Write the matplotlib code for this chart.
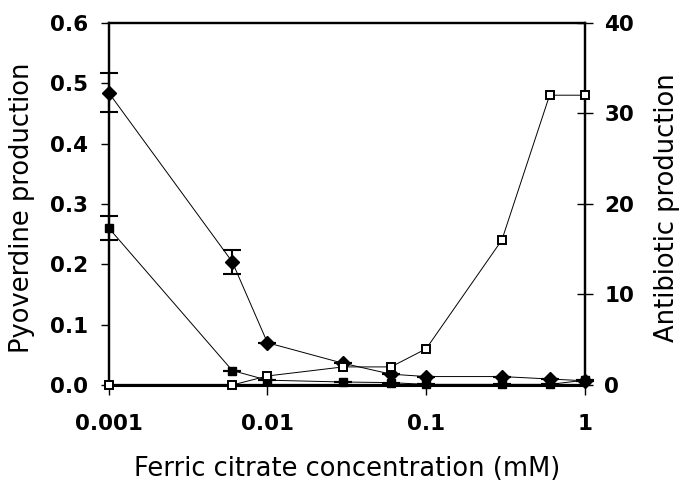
import matplotlib
matplotlib.use("Agg")
import matplotlib.pyplot as plt
from matplotlib.ticker import FixedLocator, FixedFormatter, NullLocator

# ferric citrate concentrations (mM)
conc = [0.001, 0.006, 0.01, 0.03, 0.06, 0.1, 0.3, 0.6, 1]
# pyoverdine production, two strains (left axis)
pyov_diamond = [0.484, 0.204, 0.070, 0.036, 0.018, 0.014, 0.014, 0.010, 0.007]
pyov_diamond_err = [0.032, 0.020, 0, 0, 0, 0, 0, 0, 0]
pyov_square = [0.260, 0.024, 0.008, 0.005, 0.004, 0.001, 0.001, 0.001, 0.008]
pyov_square_err = [0.020, 0, 0, 0, 0, 0, 0, 0, 0]
# antibiotic production (right axis)
antibiotic = [0, 0, 1, 2, 2, 4, 16, 32, 32]

xticks = [0.001, 0.01, 0.1, 1]
xticklabels = ["0.001", "0.01", "0.1", "1"]
lticks = [0.0, 0.1, 0.2, 0.3, 0.4, 0.5, 0.6]
rticks = [0, 10, 20, 30, 40]

TICKFONT = dict(family="DejaVu Sans", weight="bold", size=15.5)
LABELFONT = dict(family="DejaVu Sans", size=18.5)

fig = plt.figure(figsize=(6.8, 4.84), dpi=100)
ax = fig.add_axes([0.160, 0.2045, 0.700, 0.7485])
ax2 = ax.twinx()

err_kw = dict(color="black", lw=0.7, mfc="black", mec="black", capsize=6.4,
              capthick=1.5, elinewidth=1.5, clip_on=False, zorder=3)
ax.errorbar(conc, pyov_diamond, yerr=pyov_diamond_err, marker="D", ms=7.3, **err_kw)
ax.errorbar(conc, pyov_square, yerr=pyov_square_err, marker="s", ms=6.3, **err_kw)
ax2.plot(conc, antibiotic, color="black", lw=0.7, marker="s", ms=5.8,
         mfc="white", mec="black", mew=1.4, clip_on=False, zorder=4)

ax.set_xscale("log")
ax.set_xlim(0.001, 1)
ax.set_ylim(0, 0.6)
ax2.set_ylim(0, 40)

ax.xaxis.set_major_locator(FixedLocator(xticks))
ax.xaxis.set_major_formatter(FixedFormatter(xticklabels))
ax.xaxis.set_minor_locator(NullLocator())
ax.set_yticks(lticks)
ax.set_yticklabels([f"{v:.1f}" for v in lticks])
ax2.set_yticks(rticks)
ax2.set_yticklabels([str(v) for v in rticks])

for a in (ax, ax2):
    for s in a.spines.values():
        s.set_linewidth(1.6)
    for lab in a.get_xticklabels() + a.get_yticklabels():
        lab.set(**TICKFONT)
ax.spines["bottom"].set_linewidth(2.2)

ax.tick_params(axis="x", direction="out", length=7, width=1.0, pad=14)
ax.tick_params(axis="y", direction="out", length=6, width=1.0, pad=9)
ax2.tick_params(axis="y", direction="inout", length=11, width=1.0, pad=8.5)

ax.set_xlabel("Ferric citrate concentration (mM)", labelpad=16, **LABELFONT)
ax.set_ylabel("Pyoverdine production", **LABELFONT)
ax2.set_ylabel("Antibiotic production", **LABELFONT)
# fixed label positions (axes fraction)
ax.yaxis.set_label_coords(-0.156, 0.49)
ax2.yaxis.set_label_coords(1.145, 0.49)

fig.savefig("out.png", dpi=100)
